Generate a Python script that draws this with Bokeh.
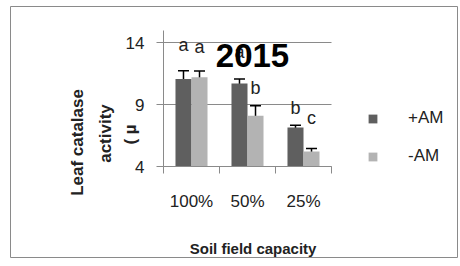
import math
from bokeh.plotting import figure
from bokeh.models import (ColumnDataSource, Range1d, FixedTicker, Whisker, TeeHead,
                          Label, Legend, LegendItem, LinearAxis)
from bokeh.transform import dodge
from bokeh.core.properties import value
from bokeh.embed import file_html
from bokeh.resources import INLINE

# ---- data ----
categories = ["100%", "50%", "25%"]
series = ["+AM", "-AM"]
plus_am = [11.05, 10.7, 7.15]
plus_err = [0.68, 0.36, 0.18]
minus_am = [11.2, 8.1, 5.2]
minus_err = [0.5, 0.8, 0.25]
plus_letters = ["a", "a", "b"]
minus_letters = ["a", "b", "c"]
y_ticks = [4, 9, 14]
y_min, y_max = 4, 15
chart_title = "2015"
x_title = "Soil field capacity"
y_title_lines = ["Leaf catalase", "activity", "( \u00b5"]

# ---- styles / layout ----
dark = "#5f5f5f"
light = "#b3b3b3"
grey = "#8a8a8a"
txt = "#222222"
FONT = "Liberation Sans"
plus_gap = [16, 17, 7]
minus_gap = [14, 8, 21]
bar_w = 0.286
off = 0.143
W, H = 458, 258
MB_L, MB_T, MB_R, MB_B = 10, 6, 1, 1
FW, FH = W - MB_L - MB_R, H - MB_T - MB_B   # frame size (the outlined box)
ax_px, ax_py = 153, 160        # frame pixel (from left / from top) of the axes origin
px_x, px_y = 56.0, 12.4        # pixels per data unit

xr = Range1d(-ax_px / px_x, (FW - ax_px) / px_x)
yr = Range1d(y_min - (FH - ax_py) / px_y, y_min + ax_py / px_y)

xc = [i + 0.5 for i in range(len(categories))]
src_p = ColumnDataSource(dict(x=xc, top=plus_am,
                              upper=[v + e for v, e in zip(plus_am, plus_err)],
                              lower=[v - e for v, e in zip(plus_am, plus_err)],
                              lab=plus_letters, gap=[-g for g in plus_gap]))
src_m = ColumnDataSource(dict(x=xc, top=minus_am,
                              upper=[v + e for v, e in zip(minus_am, minus_err)],
                              lower=[v - e for v, e in zip(minus_am, minus_err)],
                              lab=minus_letters, gap=[-g for g in minus_gap]))

p = figure(width=W, height=H, output_backend="svg", toolbar_location=None,
           x_range=xr, y_range=yr, x_axis_location=None, y_axis_location=None,
           min_border_left=MB_L, min_border_top=MB_T, min_border_right=MB_R,
           min_border_bottom=MB_B)
p.outline_line_color = grey
p.outline_line_width = 1
p.background_fill_color = "white"
p.border_fill_color = "white"

# grid
p.xgrid.visible = False
p.ygrid.ticker = FixedTicker(ticks=y_ticks)
p.ygrid.grid_line_color = grey
p.ygrid.bounds = (y_min, y_max)
p.ygrid.cross_bounds = (0, len(categories))

# axes at fixed locations
xa = LinearAxis(fixed_location=y_min, bounds=(0, len(categories)))
xa.ticker = FixedTicker(ticks=xc, minor_ticks=list(range(len(categories) + 1)))
xa.major_label_overrides = {x: c for x, c in zip(xc, categories)}
xa.major_tick_line_color = None
xa.major_tick_out = 7
xa.major_tick_in = 0
xa.minor_tick_out = 7
xa.minor_tick_in = 0
xa.minor_tick_line_color = grey
xa.axis_line_color = grey
xa.major_label_standoff = 18
xa.major_label_text_font = FONT
xa.major_label_text_font_size = "17px"
xa.major_label_text_color = txt
p.add_layout(xa, "below")

ya = LinearAxis(fixed_location=0, bounds=(y_min, y_max))
ya.ticker = FixedTicker(ticks=y_ticks)
ya.major_tick_out = 7
ya.major_tick_in = 0
ya.major_tick_line_color = grey
ya.minor_tick_line_color = None
ya.axis_line_color = grey
ya.major_label_standoff = 12
ya.major_label_text_font = FONT
ya.major_label_text_font_size = "17px"
ya.major_label_text_color = txt
p.add_layout(ya, "left")

rp = p.vbar(x=dodge("x", -off, range=p.x_range), top="top", bottom=y_min, width=bar_w,
            source=src_p, fill_color=dark, line_color=None)
rm = p.vbar(x=dodge("x", off, range=p.x_range), top="top", bottom=y_min, width=bar_w,
            source=src_m, fill_color=light, line_color=None)

for src, o in ((src_p, -off), (src_m, off)):
    w = Whisker(source=src, base=dodge("x", o, range=p.x_range), upper="upper", lower="lower",
                line_color="black", line_width=1.5,
                upper_head=TeeHead(size=11, line_color="black", line_width=1.5),
                lower_head=TeeHead(size=11, line_color="black", line_width=1.5))
    p.add_layout(w)
    p.text(x=dodge("x", o, range=p.x_range), y="upper", text="lab", source=src,
           y_offset="gap", text_align="center", text_baseline="bottom",
           text_font=value(FONT), text_font_size="18px", text_color=txt)

# y title lines (rotated), x title, chart title
for t, xd, yd in zip(y_title_lines, [-1.536, -1.036, -0.589], [5.94, 6.66, 6.58]):
    p.add_layout(Label(x=xd, y=yd, text=t, angle=math.pi / 2, text_align="center",
                       text_baseline="middle", text_font=FONT, text_font_style="bold",
                       text_font_size="17px", text_color=txt))
p.add_layout(Label(x=1.6, y=-2.61, text=x_title, text_align="center",
                   text_baseline="middle", text_font=FONT, text_font_style="bold",
                   text_font_size="15px", text_color=txt))
p.add_layout(Label(x=1.589, y=12.95, text=chart_title, text_align="center",
                   text_baseline="alphabetic", text_font=FONT, text_font_style="bold",
                   text_font_size="33px", text_color="black"))

legend = Legend(items=[LegendItem(label=series[0], renderers=[rp]),
                       LegendItem(label=series[1], renderers=[rm])],
                location=(357, 91), padding=0, margin=0, spacing=18,
                glyph_width=11, glyph_height=11, label_height=20, label_standoff=30,
                label_text_font=FONT, label_text_font_size="17px", label_text_color=txt,
                background_fill_alpha=0, border_line_color=None)
p.add_layout(legend)

open("out.html", "w").write(file_html(p, INLINE))
